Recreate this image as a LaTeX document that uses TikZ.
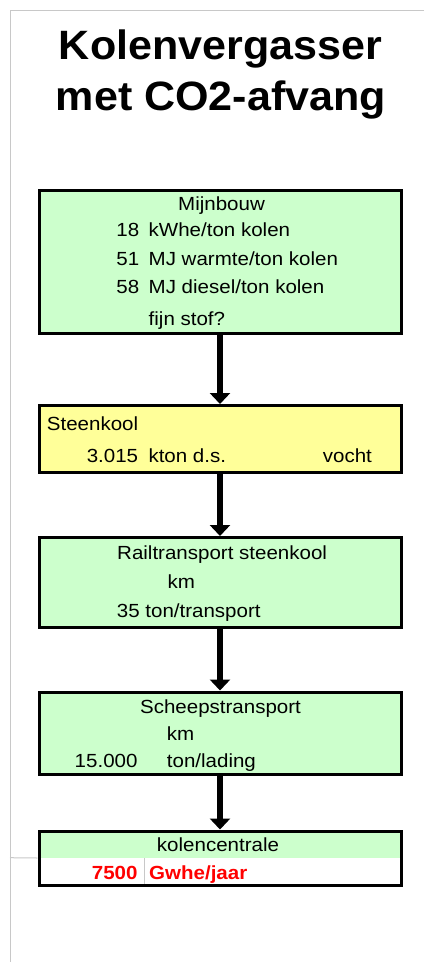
\documentclass[tikz,border=0pt]{standalone}
\usepackage{fontspec}
\usetikzlibrary{arrows.meta}
\setmainfont{Liberation Sans}
\newfontfamily\bodyfont[FakeStretch=1.08]{Liberation Sans}
\newfontfamily\titlefont[FakeStretch=1.05]{Liberation Sans}
\definecolor{cellgreen}{RGB}{204,255,204}
\definecolor{cellyellow}{RGB}{255,255,153}
\definecolor{gridgray}{RGB}{200,200,200}
\definecolor{valred}{RGB}{255,0,0}
\begin{document}
\begin{tikzpicture}[x=1pt,y=-1pt,
  box/.style={draw=black,line width=3pt,rectangle,minimum width=362pt,inner sep=0pt},
  txt/.style={inner sep=0pt,font=\bodyfont\fontsize{19}{23}\selectfont},
  lt/.style={txt,anchor=base west},
  rt/.style={txt,anchor=base east},
  ct/.style={txt,anchor=base},
  flow/.style={line width=5.5pt,-{Triangle[width=20pt,length=11pt]}},
  grid/.style={draw=gridgray,line width=1pt}]
\useasboundingbox (0,0) rectangle (424,962);
\fill[white] (0,0) rectangle (424,962);

% sheet grid lines
\coordinate (g0) at (10,10);
\coordinate (g1) at (424,10);
\coordinate (g2) at (10,962);
\coordinate (g3) at (10,857.7);
\draw[grid] (g1) -- (g0) -- (g2);

% title
\node[inner sep=0pt,anchor=base,font=\titlefont\bfseries\fontsize{41}{47}\selectfont] (t1) at (220.5,59.3) {Kolenvergasser};
\node[inner sep=0pt,anchor=base,font=\titlefont\bfseries\fontsize{41}{47}\selectfont] (t2) at (221,110) {met CO2-afvang};

% process boxes
\node[box,fill=cellgreen,minimum height=143pt] (mijn) at (220,261.5) {};
\node[box,fill=cellyellow,minimum height=67pt] (steen) at (220,439) {};
\node[box,fill=cellgreen,minimum height=89.5pt] (rail) at (220,582.25) {};
\node[box,fill=cellgreen,minimum height=82.5pt] (schip) at (220,733.25) {};
\node[box,fill=white,minimum height=54pt,
  path picture={\fill[cellgreen] (path picture bounding box.north west) rectangle ([yshift=-27.3pt]path picture bounding box.north east);}] (centrale) at (220,858) {};
\coordinate (dtop) at (144,858.3);
\coordinate (dbot) at (144,883.5);
\draw[grid,line width=0.8pt] (dtop) -- (dbot);
\draw[grid] (g3) -- (centrale.west);

% flow arrows
\draw[flow] (mijn.south) -- (steen.north);
\draw[flow] (steen.south) -- (rail.north);
\draw[flow] (rail.south) -- (schip.north);
\draw[flow] (schip.south) -- (centrale.north);

% Mijnbouw
\node[ct] (m0) at (221.5,210.7) {Mijnbouw};
\node[rt] (m1a) at (139.5,236.7) {18};
\node[lt] (m1b) at (148.5,236.7) {kWhe/ton kolen};
\node[rt] (m2a) at (139.5,265.5) {51};
\node[lt] (m2b) at (148.5,265.5) {MJ warmte/ton kolen};
\node[rt] (m3a) at (139.5,293.5) {58};
\node[lt] (m3b) at (148.5,293.5) {MJ diesel/ton kolen};
\node[lt] (m4) at (148.5,325) {fijn stof?};

% Steenkool
\node[lt] (s0) at (46.7,430) {Steenkool};
\node[rt] (s1a) at (138.3,462.3) {3.015};
\node[lt] (s1b) at (148.3,462.3) {kton d.s.};
\node[lt] (s1c) at (322.7,462.3) {vocht};

% Railtransport
\node[lt] (r0) at (117,559) {Railtransport steenkool};
\node[lt] (r1) at (167.3,588) {km};
\node[lt] (r2) at (116.7,617.3) {35 ton/transport};

% Scheepstransport
\node[ct] (p0) at (220.5,713.3) {Scheepstransport};
\node[lt] (p1) at (166.7,740.7) {km};
\node[rt] (p2a) at (137.7,767.7) {15.000};
\node[lt] (p2b) at (166.7,767.7) {ton/lading};

% kolencentrale
\node[ct] (c0) at (218,851.7) {kolencentrale};
\node[rt,text=valred,font=\bodyfont\bfseries\fontsize{19}{23}\selectfont] (c1a) at (137.7,879) {7500};
\node[lt,text=valred,font=\bodyfont\bfseries\fontsize{19}{23}\selectfont] (c1b) at (149,879) {Gwhe/jaar};
\end{tikzpicture}
\end{document}
